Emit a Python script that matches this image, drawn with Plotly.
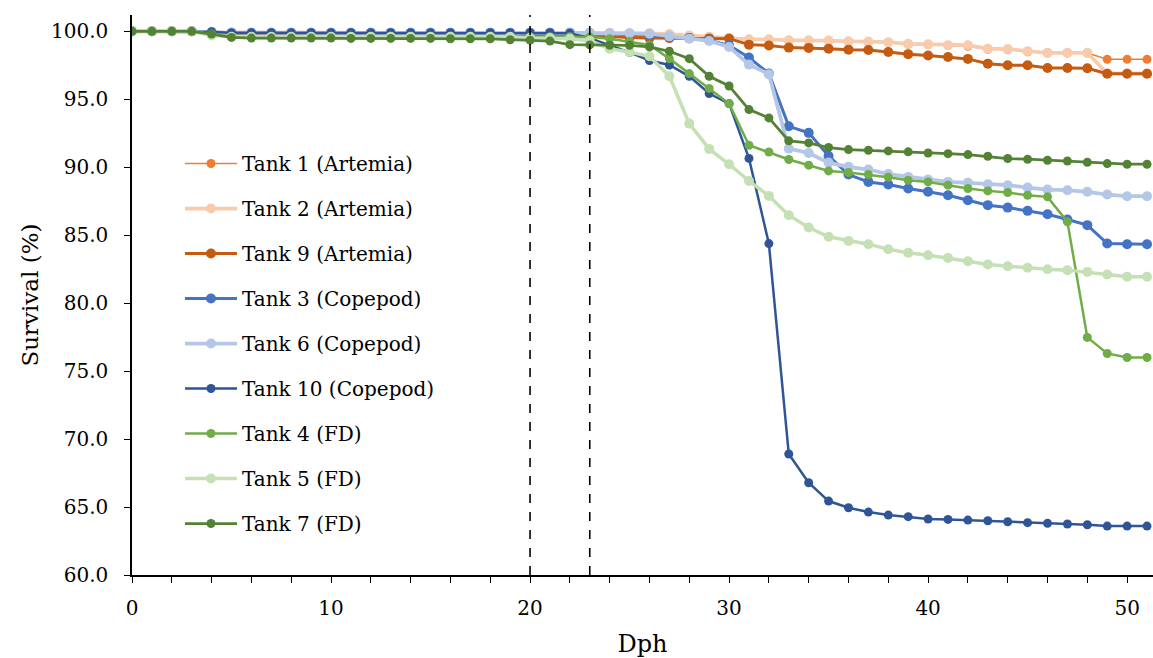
import plotly.graph_objects as go

dph = list(range(0, 52))

tank1 = [100, 100, 100, 100, 99.9, 99.9, 99.9, 99.9, 99.9, 99.9, 99.9, 99.9, 99.9, 99.9, 99.9, 99.9,
         99.9, 99.9, 99.9, 99.9, 99.9, 99.9, 99.9, 99.9, 99.9, 99.65, 99.6, 99.6, 99.55, 99.55, 99.5,
         99.38, 99.38, 99.3, 99.3, 99.3, 99.22, 99.22, 99.18, 99.05, 99.02, 98.95, 98.9, 98.68, 98.65,
         98.5, 98.4, 98.4, 98.4, 97.94, 97.94, 97.94]
tank2 = [100, 100, 100, 100, 99.9, 99.9, 99.9, 99.9, 99.9, 99.9, 99.9, 99.9, 99.9, 99.9, 99.9, 99.9,
         99.9, 99.9, 99.9, 99.9, 99.9, 99.9, 99.9, 99.9, 99.9, 99.85, 99.85, 99.8, 99.7, 99.6, 99.5,
         99.41, 99.41, 99.34, 99.34, 99.32, 99.26, 99.25, 99.2, 99.08, 99.05, 98.98, 98.98, 98.72, 98.7,
         98.54, 98.42, 98.42, 98.42, 96.9, 96.9, 96.9]
tank9 = [100, 100, 100, 100, 99.8, 99.8, 99.8, 99.8, 99.8, 99.8, 99.8, 99.8, 99.8, 99.8, 99.8, 99.8,
         99.8, 99.8, 99.8, 99.8, 99.8, 99.8, 99.75, 99.7, 99.6, 99.55, 99.5, 99.5, 99.5, 99.48, 99.46,
         99.02, 98.95, 98.8, 98.78, 98.72, 98.65, 98.63, 98.48, 98.32, 98.22, 98.11, 97.97, 97.62, 97.5,
         97.5, 97.3, 97.3, 97.28, 96.88, 96.88, 96.88]
tank3 = [100, 100, 100, 100, 99.95, 99.9, 99.9, 99.9, 99.9, 99.9, 99.9, 99.9, 99.9, 99.9, 99.9, 99.9,
         99.9, 99.9, 99.9, 99.9, 99.9, 99.9, 99.9, 99.85, 99.8, 99.8, 99.75, 99.6, 99.5, 99.35, 98.97,
         98.07, 96.9, 93.01, 92.53, 90.83, 89.46, 88.92, 88.73, 88.43, 88.19, 87.94, 87.57, 87.21, 87.03,
         86.79, 86.54, 86.15, 85.74, 84.39, 84.34, 84.34]
tank6 = [100, 100, 100, 100, 99.9, 99.9, 99.85, 99.85, 99.85, 99.85, 99.85, 99.85, 99.85, 99.85, 99.85,
         99.85, 99.85, 99.85, 99.85, 99.85, 99.85, 99.85, 99.85, 99.85, 99.85, 99.85, 99.82, 99.63, 99.46,
         99.29, 98.85, 97.55, 96.85, 91.37, 91.05, 90.34, 90.03, 89.83, 89.5, 89.29, 89.09, 88.92, 88.85,
         88.75, 88.68, 88.5, 88.36, 88.31, 88.19, 87.99, 87.87, 87.87]
tank10 = [100, 100, 100, 100, 99.95, 99.9, 99.9, 99.9, 99.9, 99.9, 99.9, 99.9, 99.9, 99.9, 99.9, 99.9,
          99.9, 99.9, 99.9, 99.9, 99.9, 99.9, 99.85, 99.5, 99.0, 98.45, 97.85, 97.52, 96.69, 95.42, 94.68,
          90.65, 84.38, 68.9, 66.79, 65.44, 64.95, 64.63, 64.41, 64.29, 64.12, 64.09, 64.04, 63.99, 63.92,
          63.85, 63.8, 63.75, 63.7, 63.6, 63.6, 63.6]
tank4 = [100, 100, 100, 100, 99.8, 99.6, 99.6, 99.6, 99.6, 99.6, 99.6, 99.6, 99.6, 99.6, 99.6, 99.6,
         99.6, 99.6, 99.6, 99.6, 99.6, 99.6, 99.6, 99.58, 99.46, 99.25, 99.0, 97.99, 96.89, 95.8, 94.68,
         91.62, 91.12, 90.57, 90.15, 89.73, 89.61, 89.46, 89.27, 89.04, 88.92, 88.68, 88.43, 88.26, 88.14,
         87.94, 87.82, 85.98, 77.48, 76.3, 76.0, 76.0]
tank5 = [100, 100, 100, 100, 99.7, 99.6, 99.6, 99.6, 99.6, 99.6, 99.6, 99.6, 99.6, 99.6, 99.6, 99.6,
         99.6, 99.6, 99.6, 99.6, 99.5, 99.5, 99.45, 99.3, 98.72, 98.48, 98.16, 96.69, 93.21, 91.35, 90.22,
         88.99, 87.89, 86.47, 85.56, 84.88, 84.58, 84.34, 83.97, 83.7, 83.53, 83.33, 83.09, 82.84, 82.72,
         82.6, 82.5, 82.43, 82.3, 82.11, 81.94, 81.94]
tank7 = [100, 100, 100, 100, 99.8, 99.55, 99.5, 99.5, 99.5, 99.5, 99.5, 99.48, 99.48, 99.48, 99.48,
         99.48, 99.45, 99.45, 99.45, 99.38, 99.35, 99.28, 99.02, 99.0, 98.97, 98.97, 98.85, 98.53, 97.99,
         96.69, 95.98, 94.24, 93.63, 91.94, 91.79, 91.45, 91.3, 91.25, 91.2, 91.13, 91.05, 91.0, 90.93,
         90.81, 90.64, 90.59, 90.51, 90.46, 90.37, 90.27, 90.22, 90.22]

series = [
    ("Tank 1 (Artemia)", tank1, "#ED7D31", 1.5, 9),
    ("Tank 2 (Artemia)", tank2, "#F8CBAD", 3.75, 10),
    ("Tank 9 (Artemia)", tank9, "#C55A11", 3, 10),
    ("Tank 3 (Copepod)", tank3, "#4472C4", 3, 10),
    ("Tank 6 (Copepod)", tank6, "#B4C7E7", 3.75, 10),
    ("Tank 10 (Copepod)", tank10, "#2F5597", 2.5, 9),
    ("Tank 4 (FD)", tank4, "#70AD47", 2.5, 9),
    ("Tank 5 (FD)", tank5, "#C5E0B4", 3.5, 10),
    ("Tank 7 (FD)", tank7, "#548235", 2.75, 9),
]

font_family = "DejaVu Serif"

fig = go.Figure()
for i, (name, vals, color, lw, ms) in enumerate(series):
    fig.add_trace(go.Scatter(
        x=dph, y=vals, name=name, mode="lines+markers",
        line=dict(color=color, width=lw),
        marker=dict(color=color, size=ms),
        legendgroup=f"g{i}",
    ))

for xv in [20, 23]:
    fig.add_shape(type="line", x0=xv, x1=xv, xref="x", y0=0, y1=1, yref="paper",
                  line=dict(color="black", width=1.6, dash="dash"))

fig.update_layout(
    width=1153, height=658,
    margin=dict(l=132, r=0, t=15, b=83),
    paper_bgcolor="white", plot_bgcolor="white",
    font=dict(family=font_family, color="black", size=20),
    showlegend=True,
    legend=dict(
        x=0.047, y=0.7696, xanchor="left", yanchor="top",
        font=dict(family=font_family, size=20, color="black"),
        bgcolor="rgba(0,0,0,0)", tracegroupgap=16,
        traceorder="grouped", itemwidth=52,
    ),
    xaxis=dict(
        range=[0, 51.3], dtick=10, tick0=0,
        showgrid=False, zeroline=False,
        showline=True, linecolor="black", linewidth=1.5,
        ticks="outside", ticklen=6, tickcolor="black", tickwidth=1.2,
        minor=dict(dtick=2, ticks="outside", ticklen=6, tickcolor="black", tickwidth=1.2, showgrid=False),
        tickfont=dict(family=font_family, size=20),
        ticklabelstandoff=8,
        title=dict(text="Dph", font=dict(family=font_family, size=24), standoff=18),
    ),
    yaxis=dict(
        range=[60, 101.2], dtick=5, tick0=60, tickformat=".1f",
        showgrid=False, zeroline=False,
        showline=True, linecolor="black", linewidth=1.5,
        ticks="outside", ticklen=6, tickcolor="black", tickwidth=1.2,
        tickfont=dict(family=font_family, size=20),
        ticklabelstandoff=12,
        title=dict(text="Survival (%)", font=dict(family=font_family, size=23), standoff=6),
    ),
)

fig.write_html("out.html")
